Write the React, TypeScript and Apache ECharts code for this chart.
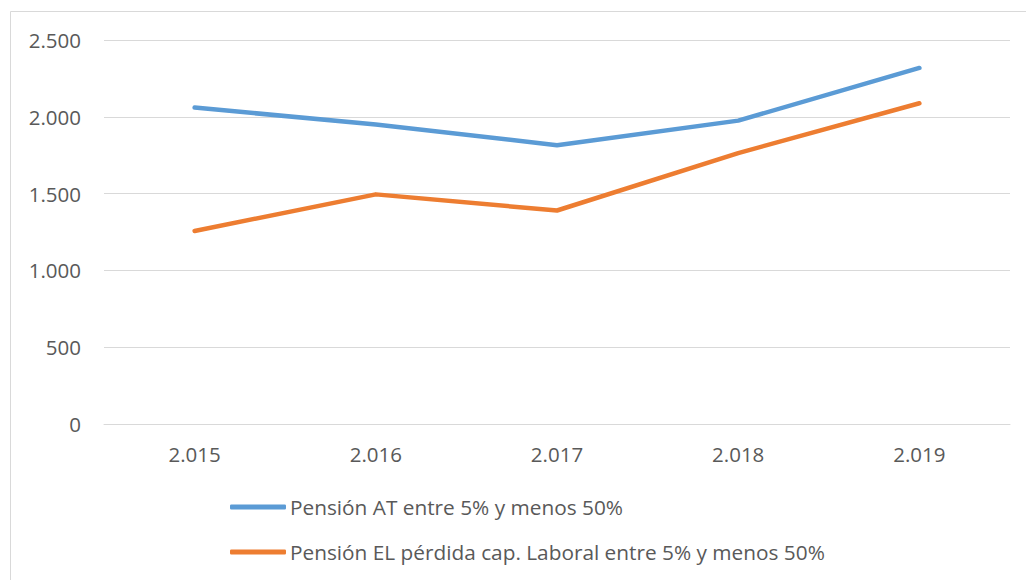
import React, { useEffect, useRef } from "react";
import * as echarts from "echarts";

const years = ["2.015", "2.016", "2.017", "2.018", "2.019"];
const seriesAT = [2060, 1950, 1815, 1975, 2318];
const seriesEL = [1257, 1495, 1390, 1764, 2088];
const nameAT = "Pensión AT entre 5% y menos 50%";
const nameEL = "Pensión EL pérdida cap. Laboral entre 5% y menos 50%";

const fmt = (v: number) => {
  const s = String(Math.round(v));
  return s.replace(/\B(?=(\d{3})+(?!\d))/g, ".");
};

export default function App() {
  const ref = useRef<HTMLDivElement>(null);
  useEffect(() => {
    if (!ref.current) return;
    const chart = echarts.init(ref.current, null, { renderer: "svg" });
    const font = "'Open Sans', sans-serif";
    chart.setOption({
      animation: false,
      backgroundColor: "#ffffff",
      textStyle: { fontFamily: font },
      graphic: [
        {
          type: "rect",
          shape: { x: 10.5, y: 11.5, width: 1100, height: 700 },
          style: { fill: "none", stroke: "#d9d9d9", lineWidth: 1 },
          silent: true,
        },
      ],
      grid: { left: 104, right: 16, top: 40, bottom: 156 },
      xAxis: {
        type: "category",
        data: years,
        boundaryGap: true,
        axisLine: { show: true, lineStyle: { color: "#d9d9d9", width: 1 } },
        axisTick: { show: false },
        axisLabel: { color: "#595959", fontSize: 20.5, margin: 19, fontFamily: font },
      },
      yAxis: {
        type: "value",
        min: 0,
        max: 2500,
        interval: 500,
        axisLine: { show: false },
        axisTick: { show: false },
        splitLine: { lineStyle: { color: "#d9d9d9", width: 1 } },
        axisLabel: {
          color: "#595959",
          fontSize: 20.5,
          margin: 23,
          fontFamily: font,
          formatter: (v: number) => fmt(v),
        },
      },
      legend: {
        orient: "vertical",
        left: 225,
        top: 491,
        itemWidth: 56,
        itemHeight: 5,
        itemGap: 23,
        icon: "roundRect",
        textStyle: {
          color: "#595959",
          fontSize: 20.8,
          lineHeight: 22,
          fontFamily: font,
          padding: [0, 0, 0, -1],
        },
        data: [nameAT, nameEL],
      },
      series: [
        {
          name: nameAT,
          type: "line",
          data: seriesAT,
          symbol: "none",
          lineStyle: { color: "#5b9bd5", width: 4.5, cap: "round", join: "round" },
          itemStyle: { color: "#5b9bd5" },
        },
        {
          name: nameEL,
          type: "line",
          data: seriesEL,
          symbol: "none",
          lineStyle: { color: "#ed7d31", width: 4.5, cap: "round", join: "round" },
          itemStyle: { color: "#ed7d31" },
        },
      ],
    });
    return () => chart.dispose();
  }, []);
  return (
    <div
      ref={ref}
      style={{ position: "fixed", left: 0, top: 0, width: 1026, height: 580 }}
    />
  );
}
